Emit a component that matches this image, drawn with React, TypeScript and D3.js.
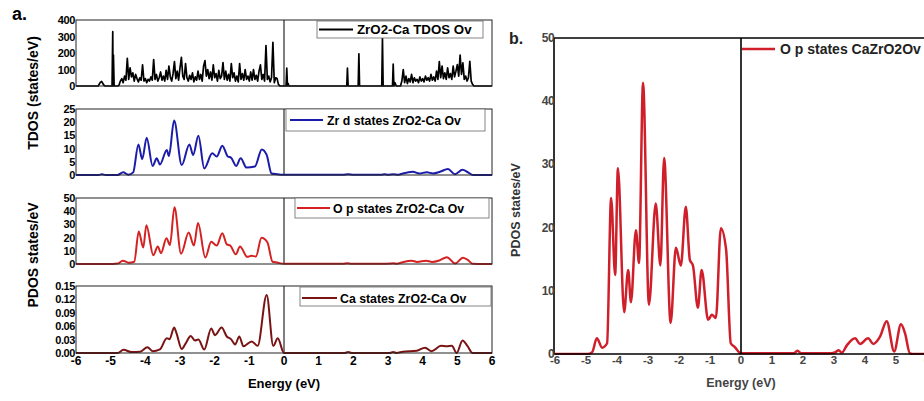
import React from "react";
import * as d3 from "d3";

// Energy axis ticks (eV)
const energyTicks = [-6, -5, -4, -3, -2, -1, 0, 1, 2, 3, 4, 5, 6];

// Total DOS of ZrO2-Ca with oxygen vacancy: [energy (eV), states/eV]
const tdos: [number, number][] = [
  [-6, 0], [-5.36, 0], [-5.3, 22], [-5.26, 28], [-5.2, 6], [-5.16, 0],
  [-4.96, 0], [-4.94, 329], [-4.93, 0], [-4.92, 188], [-4.9, 0],
  [-4.8, 0], [-4.76, 5], [-4.72, 30], [-4.68, 45], [-4.64, 20], [-4.6, 60], [-4.56, 35], [-4.52, 168],
  [-4.48, 40], [-4.44, 110], [-4.4, 55], [-4.36, 80], [-4.32, 30], [-4.28, 70], [-4.24, 45], [-4.2, 25],
  [-4.16, 50], [-4.12, 35], [-4.08, 128], [-4.04, 30], [-4.0, 45], [-3.96, 20], [-3.92, 40], [-3.88, 30],
  [-3.84, 55], [-3.8, 35], [-3.76, 160], [-3.72, 40], [-3.68, 70], [-3.64, 30], [-3.6, 50], [-3.56, 85],
  [-3.52, 35], [-3.48, 60], [-3.44, 30], [-3.4, 95], [-3.36, 40], [-3.32, 120], [-3.28, 55], [-3.24, 30],
  [-3.2, 75], [-3.16, 148], [-3.12, 45], [-3.08, 90], [-3.04, 35], [-3.0, 110], [-2.96, 174], [-2.92, 60],
  [-2.88, 40], [-2.84, 136], [-2.8, 50], [-2.76, 30], [-2.72, 65], [-2.68, 40], [-2.64, 80], [-2.6, 25],
  [-2.56, 55], [-2.52, 35], [-2.48, 90], [-2.44, 40], [-2.4, 70], [-2.36, 30], [-2.32, 120], [-2.28, 154],
  [-2.24, 60], [-2.2, 100], [-2.16, 45], [-2.12, 85], [-2.08, 35], [-2.04, 128], [-2.0, 50], [-1.96, 75],
  [-1.92, 30], [-1.88, 95], [-1.84, 45], [-1.8, 60], [-1.76, 142], [-1.72, 40], [-1.68, 90], [-1.64, 35],
  [-1.6, 70], [-1.56, 30], [-1.52, 136], [-1.48, 50], [-1.44, 80], [-1.4, 30], [-1.36, 60], [-1.32, 25],
  [-1.28, 136], [-1.24, 40], [-1.2, 75], [-1.16, 35], [-1.12, 100], [-1.08, 40], [-1.04, 60], [-1.0, 30],
  [-0.96, 85], [-0.92, 35], [-0.88, 100], [-0.84, 40], [-0.8, 65], [-0.76, 30], [-0.72, 90], [-0.68, 128],
  [-0.64, 40], [-0.6, 70], [-0.56, 30], [-0.52, 245], [-0.48, 40], [-0.44, 60], [-0.4, 25], [-0.36, 50],
  [-0.32, 265], [-0.28, 20], [-0.24, 50], [-0.2, 45], [-0.16, 10], [-0.12, 0],
  [0.06, 0], [0.08, 108], [0.1, 0], [0.12, 15], [0.14, 0],
  [1.81, 0], [1.83, 108], [1.85, 0],
  [2.14, 0], [2.16, 195], [2.18, 0],
  [2.82, 0], [2.84, 290], [2.86, 0],
  [3.13, 0], [3.15, 132], [3.17, 0], [3.2, 20], [3.24, 0],
  [3.36, 0], [3.4, 30], [3.44, 100], [3.48, 20], [3.52, 60], [3.56, 15], [3.6, 45], [3.64, 25], [3.68, 70],
  [3.72, 20], [3.76, 50], [3.8, 30], [3.84, 40], [3.88, 20], [3.92, 55], [3.96, 30], [4.0, 45], [4.04, 25],
  [4.08, 60], [4.12, 35], [4.16, 50], [4.2, 30], [4.24, 70], [4.28, 35], [4.32, 55], [4.36, 30], [4.4, 90],
  [4.44, 40], [4.48, 148], [4.52, 50], [4.56, 120], [4.6, 45], [4.64, 80], [4.68, 40], [4.72, 110], [4.76, 50],
  [4.8, 75], [4.84, 40], [4.88, 120], [4.92, 55], [4.96, 90], [5.0, 130], [5.04, 60], [5.08, 188], [5.12, 70],
  [5.16, 140], [5.2, 40], [5.24, 60], [5.28, 30], [5.32, 50], [5.36, 150], [5.4, 30], [5.44, 10], [5.48, 0],
  [6, 0],
];

// Zr d projected states
const zrD: [number, number][] = [
  [-6, 0], [-5.35, 0], [-5.25, 0.3], [-5.15, 0], [-4.8, 0], [-4.64, 1.0], [-4.49, 0.1], [-4.35, 1],
  [-4.2, 11.6], [-4.09, 6], [-3.96, 14.1], [-3.79, 3.4], [-3.67, 6.3], [-3.58, 4], [-3.38, 9.5], [-3.32, 7.2],
  [-3.17, 20.6], [-2.95, 3.8], [-2.73, 11.6], [-2.62, 7.6], [-2.47, 14.9], [-2.3, 2.5], [-2.07, 8.2],
  [-1.94, 7], [-1.78, 11.1], [-1.62, 7], [-1.53, 6.6], [-1.38, 3.4], [-1.25, 6.3], [-1.08, 2.8],
  [-0.84, 3.2], [-0.64, 9.7], [-0.5, 7.6], [-0.36, 0.6], [-0.2, 0.3], [0, 0.1], [1.7, 0.05], [1.85, 0.3],
  [2.0, 0.05], [2.8, 0.05], [2.9, 0.3], [3.0, 0.1], [3.15, 0.3], [3.3, 0.1], [3.43, 0.6], [3.72, 1.2],
  [3.9, 0.6], [4.12, 1.0], [4.3, 0.6], [4.5, 1.2], [4.73, 2.3], [4.93, 0.3], [5.15, 2], [5.31, 1],
  [5.45, 0], [6, 0],
];

// O p projected states
const oP: [number, number][] = [
  [-6, 0], [-4.95, 0], [-4.8, 0.3], [-4.65, 2.5], [-4.48, 1], [-4.32, 1.7], [-4.19, 24.7], [-4.06, 12.5],
  [-3.97, 29.4], [-3.77, 6.6], [-3.64, 13.3], [-3.55, 8.2], [-3.39, 19.6], [-3.29, 14.4], [-3.16, 42.9],
  [-2.97, 7.8], [-2.75, 23.8], [-2.6, 14], [-2.48, 31], [-2.27, 4.9], [-2.1, 16.8], [-1.94, 14],
  [-1.78, 23.3], [-1.65, 14.9], [-1.55, 14], [-1.39, 7.3], [-1.27, 13.3], [-1.06, 5.4], [-0.94, 6.2],
  [-0.81, 5.7], [-0.65, 19.9], [-0.48, 16.5], [-0.33, 1.7], [-0.2, 1.1], [0, 0.1], [1.7, 0.1], [1.82, 0.5],
  [1.95, 0.1], [2.9, 0.1], [3.05, 0.3], [3.15, 0.6], [3.25, 0.2], [3.42, 1.4], [3.68, 2.5], [3.84, 1.6],
  [4.1, 2.5], [4.27, 1.6], [4.48, 2.7], [4.7, 5.2], [4.94, 0.4], [5.16, 4.7], [5.29, 3.3], [5.45, 0.1],
  [5.6, 0], [6, 0],
];

// Ca projected states
const ca: [number, number][] = [
  [-6, 0], [-4.8, 0], [-4.63, 0.007], [-4.39, 0.002], [-4.15, 0.003], [-3.94, 0.013], [-3.79, 0.004],
  [-3.58, 0.008], [-3.38, 0.033], [-3.3, 0.031], [-3.17, 0.057], [-3.1, 0.044], [-2.95, 0.009],
  [-2.84, 0.021], [-2.69, 0.038], [-2.57, 0.028], [-2.47, 0.03], [-2.3, 0.008], [-2.1, 0.055],
  [-1.99, 0.04], [-1.8, 0.057], [-1.65, 0.037], [-1.53, 0.031], [-1.41, 0.019], [-1.29, 0.037],
  [-1.17, 0.015], [-0.93, 0.026], [-0.76, 0.016], [-0.5, 0.13], [-0.31, 0.016], [-0.18, 0.033], [0, 0],
  [1.75, 0], [1.85, 0.002], [1.95, 0], [3.05, 0], [3.15, 0.002], [3.25, 0], [3.43, 0.003], [3.83, 0.005],
  [4.07, 0.012], [4.26, 0.004], [4.53, 0.016], [4.69, 0.015], [4.84, 0.016], [4.98, 0.0], [5.15, 0.028],
  [5.29, 0.016], [5.44, 0], [6, 0],
];

const tdosTicks = [0, 100, 200, 300, 400];
const zrTicks = [0, 5, 10, 15, 20, 25];
const opTicks = [0, 10, 20, 30, 40, 50];
const caTicks = [0, 0.03, 0.06, 0.09, 0.12, 0.15];
const bTicks = [0, 10, 20, 30, 40, 50];

const FONT = "'Liberation Sans', Arial, sans-serif";

type Panel = {
  data: [number, number][];
  top: number;
  bottom: number;
  max: number;
  ticks: number[];
  fmt: (v: number) => string;
  color: string;
  width: number;
  smooth: boolean;
  label: string;
  box: [number, number, number, number];
  lineX: [number, number];
  lineY: number;
  textX: number;
  textY: number;
  fontSize: number;
};

const panels: Panel[] = [
  { data: tdos, top: 20, bottom: 86, max: 400, ticks: tdosTicks, fmt: (v) => String(v), color: "#000", width: 1.7, smooth: false,
    label: "ZrO2-Ca TDOS Ov", box: [317, 21, 483, 38], lineX: [319, 353], lineY: 29.5, textX: 357, textY: 34, fontSize: 13.3 },
  { data: zrD, top: 109, bottom: 175, max: 25, ticks: zrTicks, fmt: (v) => String(v), color: "#1c1caa", width: 2, smooth: true,
    label: "Zr d states ZrO2-Ca Ov", box: [286, 109, 485, 131], lineX: [290, 323], lineY: 120, textX: 327, textY: 125, fontSize: 12.3 },
  { data: oP, top: 198, bottom: 264, max: 50, ticks: opTicks, fmt: (v) => String(v), color: "#d42222", width: 2, smooth: true,
    label: "O p states ZrO2-Ca Ov", box: [295, 198, 489, 218], lineX: [297, 330], lineY: 208, textX: 333, textY: 212.5, fontSize: 12.3 },
  { data: ca, top: 286, bottom: 353, max: 0.15, ticks: caTicks, fmt: (v) => v.toFixed(2), color: "#7a1414", width: 2, smooth: true,
    label: "Ca states ZrO2-Ca Ov", box: [300, 287, 491, 306], lineX: [302, 337], lineY: 298, textX: 340, textY: 302.5, fontSize: 12.3 },
];

export default function App() {
  const xa = d3.scaleLinear().domain([-6, 6]).range([76, 492]);
  const xb = d3.scaleLinear().domain([-6, 6]).range([555, 927]);
  const yb = d3.scaleLinear().domain([0, 50]).range([354, 38]);

  const lineB = d3
    .line<[number, number]>()
    .x((d) => xb(d[0]))
    .y((d) => yb(Math.max(0, d[1])))
    .curve(d3.curveMonotoneX);

  return (
    <svg width={924} height={401} style={{ position: "absolute", left: 0, top: 0, background: "#fff" }} fontFamily={FONT}>
      <rect x={0} y={0} width={924} height={401} fill="#fff" />
      {/* Panel a */}
      <text x={12} y={20} fontSize={18} fontWeight="bold">a.</text>
      <text transform="translate(38,93) rotate(-90)" textAnchor="middle" fontSize={14} fontWeight="bold">TDOS (states/eV)</text>
      <text transform="translate(38,255) rotate(-90)" textAnchor="middle" fontSize={14} fontWeight="bold">PDOS states/eV</text>
      {panels.map((p, i) => {
        const y = d3.scaleLinear().domain([0, p.max]).range([p.bottom, p.top]);
        const gen = d3
          .line<[number, number]>()
          .x((d) => xa(d[0]))
          .y((d) => y(Math.max(0, d[1])))
          .curve(p.smooth ? d3.curveMonotoneX : d3.curveLinear);
        return (
          <g key={i}>
            <clipPath id={`clip${i}`}>
              <rect x={76} y={p.top} width={416} height={p.bottom - p.top + 1} />
            </clipPath>
            <line x1={xa(0)} x2={xa(0)} y1={p.top} y2={p.bottom} stroke="#555" strokeWidth={1.5} />
            <path d={gen(p.data) || ""} fill="none" stroke={p.color} strokeWidth={p.width} strokeLinejoin="round" clipPath={`url(#clip${i})`} />
            <rect x={76} y={p.top} width={416} height={p.bottom - p.top} fill="none" stroke="#222" strokeWidth={1} />
            {p.ticks.map((t) => (
              <text key={t} x={75} y={y(t) + 4} textAnchor="end" fontSize={11} fontWeight="bold" letterSpacing={-0.4}>
                {p.fmt(t)}
              </text>
            ))}
            <rect x={p.box[0]} y={p.box[1]} width={p.box[2] - p.box[0]} height={p.box[3] - p.box[1]} fill="#fff" stroke="#666" strokeWidth={0.8} />
            <line x1={p.lineX[0]} x2={p.lineX[1]} y1={p.lineY} y2={p.lineY} stroke={p.color} strokeWidth={2} />
            <text x={p.textX} y={p.textY} fontSize={p.fontSize} fontWeight="bold">{p.label}</text>
          </g>
        );
      })}
      {energyTicks.map((t) => (
        <text key={t} x={xa(t)} y={365} textAnchor="middle" fontSize={12} fontWeight="bold">{t}</text>
      ))}
      <text x={284} y={388} textAnchor="middle" fontSize={13} fontWeight="bold">Energy (eV)</text>

      {/* Panel b */}
      <text x={509} y={44} fontSize={16} fontWeight="bold" fill="#222">b.</text>
      <text transform="translate(520,210) rotate(-90)" textAnchor="middle" fontSize={12.5} fontWeight="bold" fill="#333">PDOS states/eV</text>
      <clipPath id="clipb">
        <rect x={555} y={38} width={372} height={317} />
      </clipPath>
      <path d={lineB(oP) || ""} fill="none" stroke="#cf1f2a" strokeWidth={2.5} strokeLinejoin="round" clipPath="url(#clipb)" />
      <line x1={554} x2={924} y1={38} y2={38} stroke="#000" strokeWidth={1.6} />
      <line x1={554} x2={554} y1={38} y2={354} stroke="#000" strokeWidth={1.6} />
      <line x1={554} x2={924} y1={354} y2={354} stroke="#000" strokeWidth={1.6} />
      <line x1={xb(0)} x2={xb(0)} y1={38} y2={354} stroke="#000" strokeWidth={1.6} />
      {bTicks.map((t) => (
        <text key={t} x={554} y={yb(t) + 4} textAnchor="end" fontSize={12} fontWeight="bold" fill="#444" letterSpacing={-0.6}>{t}</text>
      ))}
      {energyTicks.map((t) => (
        <text key={t} x={xb(t)} y={364} textAnchor="middle" fontSize={11.5} fontWeight="bold" fill="#444">{t}</text>
      ))}
      <text x={741} y={387} textAnchor="middle" fontSize={12.5} fontWeight="bold" fill="#444">Energy (eV)</text>
      <line x1={742} x2={775} y1={49} y2={49} stroke="#cf1f2a" strokeWidth={2.5} />
      <text x={780} y={54} fontSize={14} fontWeight="bold" fill="#222">O p states CaZrO2Ov</text>
    </svg>
  );
}
